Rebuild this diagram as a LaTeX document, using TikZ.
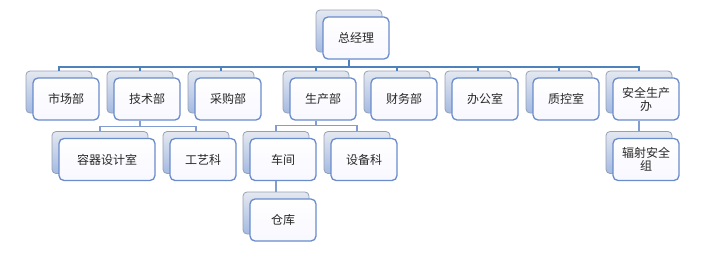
\documentclass[tikz,border=0pt]{standalone}
\usepackage{fontspec}
\newfontfamily\cjk{Noto Sans CJK SC}
\usepackage{tikz}
\usetikzlibrary{positioning}

\definecolor{linkblue}{RGB}{79,129,189}
\definecolor{sublinkblue}{RGB}{130,158,208}
\definecolor{frontline}{RGB}{106,140,203}
\definecolor{backline}{RGB}{150,160,180}
\definecolor{backtop}{RGB}{228,232,240}
\definecolor{backbot}{RGB}{164,186,226}
\definecolor{textgray}{RGB}{40,40,40}

\tikzset{
  back/.style={draw=backline, line width=0.8pt, rounded corners=4pt,
    top color=backtop, bottom color=backbot,
    minimum width=66pt, minimum height=42pt, inner sep=0pt},
  front/.style={draw=frontline, line width=1.3pt, rounded corners=5pt,
    top color=white, bottom color=blue!3!white,
    minimum width=66pt, minimum height=42pt, inner sep=2pt,
    align=center, text=textgray, font=\cjk\fontsize{12}{13}\selectfont},
  link/.style={draw=linkblue, line width=2.2pt},
  sublink/.style={draw=sublinkblue, line width=1.4pt}
}

\begin{document}
\begin{tikzpicture}[x=1pt, y=-1pt]
    \useasboundingbox (0,0) rectangle (709,257);

    % top
    \node[back] (gm s) at (349,31) {};
    \node[front] (gm) at ([shift={(7,7)}]gm s) {总经理};

    % departments
    \node[back] (market s) at (59,92) {};
    \node[front] (market) at ([shift={(7,7)}]market s) {市场部};
    \node[back] (tech s) at (140,92) {};
    \node[front] (tech) at ([shift={(7,7)}]tech s) {技术部};
    \node[back] (purchase s) at (221,92) {};
    \node[front] (purchase) at ([shift={(7,7)}]purchase s) {采购部};
    \node[back] (prod s) at (316,92) {};
    \node[front] (prod) at ([shift={(7,7)}]prod s) {生产部};
    \node[back] (finance s) at (397,92) {};
    \node[front] (finance) at ([shift={(7,7)}]finance s) {财务部};
    \node[back] (office s) at (478,92) {};
    \node[front] (office) at ([shift={(7,7)}]office s) {办公室};
    \node[back] (qc s) at (559,92) {};
    \node[front] (qc) at ([shift={(7,7)}]qc s) {质控室};
    \node[back] (safety s) at (639,92) {};
    \node[front] (safety) at ([shift={(7,7)}]safety s) {安全生产\\办};

    % sections
    \node[back, minimum width=96pt] (vessel s) at (100,152.5) {};
    \node[front, minimum width=96pt] (vessel) at ([shift={(7,7)}]vessel s) {容器设计室};
    \node[back] (craft s) at (196,152.5) {};
    \node[front] (craft) at ([shift={(7,7)}]craft s) {工艺科};
    \node[back] (shop s) at (276,152.5) {};
    \node[front] (shop) at ([shift={(7,7)}]shop s) {车间};
    \node[back] (equip s) at (357,152.5) {};
    \node[front] (equip) at ([shift={(7,7)}]equip s) {设备科};
    \node[back] (store s) at (276,213) {};
    \node[front] (store) at ([shift={(7,7)}]store s) {仓库};
    \node[back] (radiation s) at (639,152.5) {};
    \node[front] (radiation) at ([shift={(7,7)}]radiation s) {辐射安全\\组};

    % connectors
    \foreach \dept in {market,tech,purchase,prod,finance,office,qc,safety}
      \draw[link] (gm s |- gm.south) -- ++(0,7) -| (\dept\space s.north);
    \foreach \sec in {vessel,craft}
      \draw[sublink] (tech s |- tech.south) -- ++(0,6) -| (\sec\space s.north);
    \foreach \sec in {shop,equip}
      \draw[sublink] (prod s |- prod.south) -- ++(0,5) -| (\sec\space s.north);
    \draw[sublink] (shop s |- shop.south) -- (store s.north);
    \draw[sublink] (safety s |- safety.south) -- (radiation s.north);
  \end{tikzpicture}
\end{document}
